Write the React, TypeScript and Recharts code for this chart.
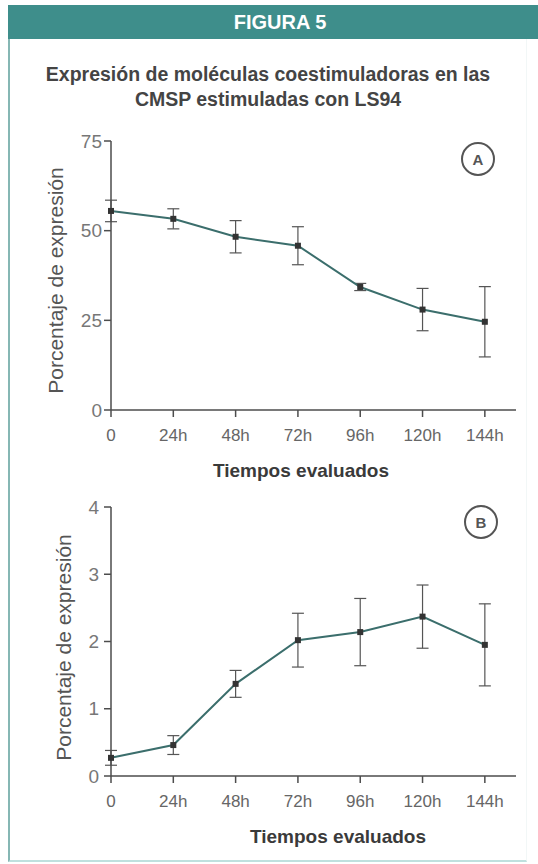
import React from 'react';
import { LineChart, Line, XAxis, YAxis, ErrorBar } from 'recharts';

const hours = [0, 24, 48, 72, 96, 120, 144];
const hourLabels = ['0', '24h', '48h', '72h', '96h', '120h', '144h'];

// panel A
const meanA = [55.5, 53.3, 48.3, 45.8, 34.3, 28.0, 24.6];
const errA = [3.0, 2.8, 4.5, 5.3, 1.0, 5.9, 9.8];
const ticksA = [0, 25, 50, 75];

// panel B
const meanB = [0.27, 0.46, 1.37, 2.02, 2.14, 2.37, 1.95];
const errB = [0.11, 0.14, 0.2, 0.4, 0.5, 0.47, 0.61];
const ticksB = [0, 1, 2, 3, 4];

const FONT = '"Liberation Sans", Arial, Helvetica, sans-serif';
const TEAL = '#3e8e8b';
const AXIS = '#4d4d4d';

const SquareDot = (props: any) => {
  const { cx, cy } = props;
  if (cx == null || cy == null) return null;
  return <rect x={cx - 3} y={cy - 3} width={6} height={6} fill="#333" />;
};

const YTitle = ({ viewBox, dx, dy }: any) => {
  const cx = viewBox.x + dx;
  const cy = viewBox.y + viewBox.height / 2 + dy;
  return (
    <text
      x={cx}
      y={cy}
      transform={`rotate(-90 ${cx} ${cy})`}
      textAnchor="middle"
      dominantBaseline="central"
      fill="#555"
      fontSize={21}
      fontFamily={FONT}
    >
      Porcentaje de expresión
    </text>
  );
};

const XTitle = ({ viewBox, dx, dy }: any) => (
  <text
    x={viewBox.x + dx}
    y={viewBox.y + dy}
    textAnchor="middle"
    dominantBaseline="central"
    fill="#3a3a3a"
    fontSize={19}
    fontWeight="bold"
    fontFamily={FONT}
  >
    Tiempos evaluados
  </text>
);

interface PanelProps {
  means: number[];
  errs: number[];
  yTicks: number[];
  yMax: number;
  top: number;
  letter: string;
  yTitleDx: number;
  yTitleDy: number;
  xTitleDx: number;
  yTickMargin: number;
}

const Panel: React.FC<PanelProps> = ({ means, errs, yTicks, yMax, top, letter, yTitleDx, yTitleDy, xTitleDx, yTickMargin }) => {
  const data = hours.map((h, i) => ({ h, mean: means[i], err: errs[i] }));
  return (
    <div style={{ position: 'absolute', left: 0, top, width: 538, height: 370 }}>
      <LineChart width={538} height={370} data={data} margin={{ top: 21, right: 22, bottom: 50, left: 61 }}>
        <XAxis
          dataKey="h"
          type="number"
          domain={[0, 156]}
          ticks={hours}
          tickFormatter={(v: number) => hourLabels[hours.indexOf(v)]}
          height={30}
          stroke={AXIS}
          strokeWidth={1.5}
          tickSize={7}
          tickMargin={12}
          tick={{ fill: '#666', fontSize: 17, fontFamily: FONT }}
          label={<XTitle dx={xTitleDx} dy={60} />}
        />
        <YAxis
          type="number"
          domain={[0, yMax]}
          ticks={yTicks}
          width={50}
          stroke={AXIS}
          strokeWidth={1.5}
          tickSize={7}
          tickMargin={yTickMargin}
          tick={{ fill: '#777', fontSize: 19, fontFamily: FONT }}
          label={<YTitle dx={yTitleDx} dy={yTitleDy} />}
        />
        <Line
          type="linear"
          dataKey="mean"
          stroke="#3b6e6c"
          strokeWidth={2}
          dot={<SquareDot />}
          activeDot={false}
          isAnimationActive={false}
        >
          <ErrorBar dataKey="err" direction="y" width={6} stroke="#555" strokeWidth={1.2} />
        </Line>
      </LineChart>
      <div
        style={{
          position: 'absolute',
          left: letter === 'A' ? 461 : 464,
          top: letter === 'A' ? 22 : 19,
          width: 30,
          height: 30,
          border: '2px solid #555',
          borderRadius: '50%',
          display: 'flex',
          alignItems: 'center',
          justifyContent: 'center',
          fontFamily: FONT,
          fontWeight: 'bold',
          fontSize: 15,
          color: '#555',
        }}
      >
        {letter}
      </div>
    </div>
  );
};

export default function App() {
  return (
    <div style={{ position: 'absolute', left: 0, top: 0, width: 538, height: 864, background: '#fff', fontFamily: FONT }}>
      {/* frame */}
      <div
        style={{
          position: 'absolute',
          left: 8,
          top: 5,
          width: 516,
          height: 855,
          borderLeft: '2px solid #86b7b4',
          borderBottom: '2px solid #bfe0de',
          borderRight: '1px solid #f2f7f7',
        }}
      />
      <div
        style={{
          position: 'absolute',
          left: 8,
          top: 5,
          width: 530,
          height: 34,
          background: TEAL,
          color: '#fff',
          fontWeight: 'bold',
          fontSize: 20,
          display: 'flex',
          alignItems: 'center',
          justifyContent: 'center',
          paddingLeft: 14,
          boxSizing: 'border-box',
        }}
      >
        FIGURA 5
      </div>
      <div
        style={{
          position: 'absolute',
          left: 8,
          top: 62,
          width: 520,
          textAlign: 'center',
          color: '#444',
          fontWeight: 'bold',
          fontSize: 19.5,
          lineHeight: '25px',
        }}
      >
        Expresión de moléculas coestimuladoras en las
        <br />
        CMSP estimuladas con LS94
      </div>
      <Panel
        means={meanA}
        errs={errA}
        yTicks={ticksA}
        yMax={75}
        top={120}
        letter="A"
        yTitleDx={-6}
        yTitleDy={5}
        xTitleDx={190}
        yTickMargin={2}
      />
      <Panel
        means={meanB}
        errs={errB}
        yTicks={ticksB}
        yMax={4}
        top={486}
        letter="B"
        yTitleDx={2}
        yTitleDy={6}
        xTitleDx={227}
        yTickMargin={5}
      />
    </div>
  );
}
